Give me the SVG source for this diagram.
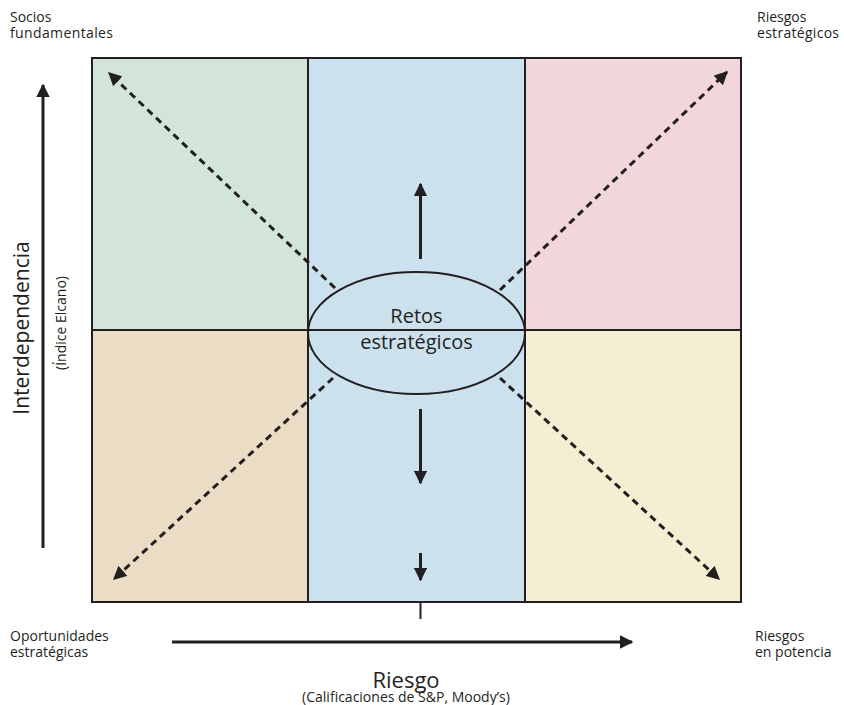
<svg xmlns="http://www.w3.org/2000/svg" width="844" height="705" viewBox="0 0 844 705">
<style>
.t{font-family:"Open Sans","Liberation Sans",sans-serif;fill:#231f20}
.lbl{font-size:14px}
.cell{stroke:#231f20;stroke-width:2}
.dash{stroke:#231f20;stroke-width:3;stroke-dasharray:7,5;fill:none}
.sol{stroke:#231f20;stroke-width:3;fill:none}
</style>
<defs>
<marker id="ah" viewBox="0 0 10 10" refX="9" refY="5" markerWidth="4.5" markerHeight="4.5" orient="auto" markerUnits="strokeWidth">
<path d="M0,0 L10,5 L0,10 z" fill="#231f20"/>
</marker>
</defs>
<rect width="844" height="705" fill="#ffffff"/>
<g id="cells">
<rect id="q-tl" class="cell" x="92" y="58" width="216" height="272" fill="#d3e4da"/>
<rect id="q-tc" class="cell" x="308" y="58" width="217" height="272" fill="#cce1ee"/>
<rect id="q-tr" class="cell" x="525" y="58" width="216" height="272" fill="#f2d7da"/>
<rect id="q-bl" class="cell" x="92" y="330" width="216" height="272" fill="#ebdcc6"/>
<rect id="q-bc" class="cell" x="308" y="330" width="217" height="272" fill="#cce1ee"/>
<rect id="q-br" class="cell" x="525" y="330" width="216" height="272" fill="#f4efd2"/>
</g>
<g id="retos">
<ellipse cx="416.5" cy="333" rx="108.5" ry="61" fill="#cce1ee" stroke="#231f20" stroke-width="2"/>
<line x1="308" y1="330" x2="525" y2="330" stroke="#231f20" stroke-width="2"/>
<text class="t" x="416.5" y="323" font-size="20" text-anchor="middle">Retos</text>
<text class="t" x="416.5" y="349" font-size="20" text-anchor="middle">estratégicos</text>
</g>
<g id="connectors">
<line class="dash" x1="335" y1="288" x2="109" y2="73" marker-end="url(#ah)"/>
<line class="dash" x1="500" y1="290" x2="727" y2="72" marker-end="url(#ah)"/>
<line class="dash" x1="333" y1="378" x2="114" y2="579" marker-end="url(#ah)"/>
<line class="dash" x1="500" y1="378" x2="719" y2="579" marker-end="url(#ah)"/>
<line class="sol" x1="420.5" y1="259" x2="420.5" y2="184" marker-end="url(#ah)"/>
<line class="sol" x1="420.5" y1="409" x2="420.5" y2="483" marker-end="url(#ah)"/>
<line class="sol" x1="420.5" y1="553" x2="420.5" y2="580" marker-end="url(#ah)"/>
<line x1="420.5" y1="602" x2="420.5" y2="619" stroke="#231f20" stroke-width="2"/>
<line class="sol" x1="43" y1="548" x2="43" y2="85" marker-end="url(#ah)"/>
<line class="sol" x1="172" y1="642" x2="632" y2="642" marker-end="url(#ah)"/>
</g>
<g id="labels">
<text class="t lbl" x="10" y="22">Socios</text>
<text class="t lbl" x="10" y="38" textLength="103">fundamentales</text>
<text class="t lbl" x="757" y="22">Riesgos</text>
<text class="t lbl" x="757" y="38" textLength="82">estratégicos</text>
<text class="t lbl" x="10" y="641">Oportunidades</text>
<text class="t lbl" x="10" y="657">estratégicas</text>
<text class="t lbl" x="755" y="641">Riesgos</text>
<text class="t lbl" x="755" y="657">en potencia</text>
<text class="t" x="406" y="688" font-size="22" text-anchor="middle">Riesgo</text>
<text class="t" x="406" y="702" font-size="14" text-anchor="middle">(Calificaciones de S&amp;P, Moody’s)</text>
<text class="t" transform="translate(29,328) rotate(-90)" font-size="21" text-anchor="middle">Interdependencia</text>
<text class="t" transform="translate(66,323) rotate(-90)" font-size="14" text-anchor="middle">(Índice Elcano)</text>
</g>
</svg>
